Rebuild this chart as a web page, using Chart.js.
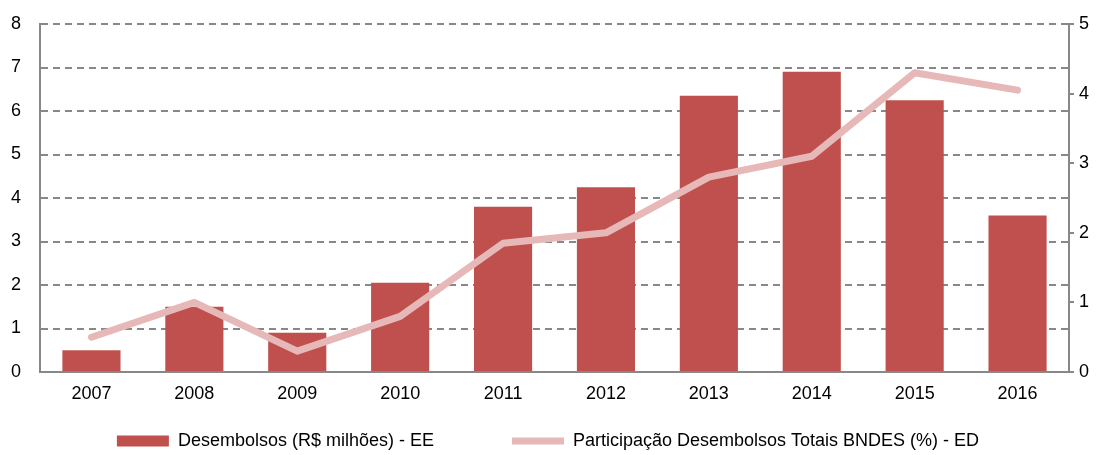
<!DOCTYPE html>
<html>
<head>
<meta charset="utf-8">
<script src="https://cdn.jsdelivr.net/npm/chart.js@4"></script>
<style>
  html, body { margin: 0; padding: 0; background: #fff; }
  #wrap { width: 1096px; height: 455px; position: relative; }
</style>
</head>
<body>
<div id="wrap"><canvas id="chart"></canvas></div>
<script>
const years = ['2007', '2008', '2009', '2010', '2011', '2012', '2013', '2014', '2015', '2016'];
const desembolsos = [0.5, 1.5, 0.9, 2.05, 3.8, 4.25, 6.35, 6.9, 6.25, 3.6];
const participacao = [0.5, 1.0, 0.3, 0.8, 1.85, 2.0, 2.8, 3.1, 4.3, 4.05];
const leftTicks = [0, 1, 2, 3, 4, 5, 6, 7, 8];
const rightTicks = [0, 1, 2, 3, 4, 5];

const FONT = { family: '"Liberation Sans", Arial, sans-serif', size: 18 };
const AXIS = '#888888';
const LEGEND_GAP = 78;   // horizontal space between legend entries
const LEGEND_TOP = 26;   // space above the legend row

// keep the value axes from adding their own label overflow padding
function fixY(width) {
	return s => { s.width = width; s.paddingTop = 0; s.paddingBottom = 0; };
}

// legend padding is used both sideways and on top; raise the top of the box
// (bottom stays put, so nothing gets clipped) to keep the row where it was
const legendShift = {
	id: 'legendShift',
	afterLayout(chart) {
		const lg = chart.legend;
		if (!lg) return;
		lg.top -= LEGEND_GAP - LEGEND_TOP;
		lg.height = lg.bottom - lg.top;
	}
};

new Chart(document.getElementById('chart'), {
	type: 'bar',
	data: {
		labels: years,
		datasets: [{
			label: 'Desembolsos (R$ milhões) - EE',
			data: desembolsos,
			backgroundColor: '#C0504D',
			barPercentage: 0.565,
			categoryPercentage: 1,
			yAxisID: 'y',
			pointStyle: 'rect',
			order: 1
		}, {
			type: 'line',
			label: 'Participação Desembolsos Totais BNDES (%) - ED',
			data: participacao,
			borderColor: '#E6B9B8',
			backgroundColor: '#E6B9B8',
			borderWidth: 7,
			borderCapStyle: 'round',
			borderJoinStyle: 'round',
			pointRadius: 0,
			pointStyle: 'line',
			yAxisID: 'y1',
			order: 0
		}]
	},
	options: {
		responsive: true,
		maintainAspectRatio: false,
		animation: false,
		layout: { padding: { top: 24, bottom: 0, left: 0, right: 0 } },
		plugins: {
			legend: {
				position: 'bottom',
				maxHeight: LEGEND_TOP + 23,
				labels: {
					color: '#000',
					font: FONT,
					usePointStyle: true,
					pointStyleWidth: 52,
					boxWidth: 52,
					boxHeight: 11,
					padding: LEGEND_GAP,
					sort: (a, b) => a.datasetIndex - b.datasetIndex
				}
			},
			tooltip: { enabled: false }
		},
		scales: {
			x: {
				grid: { display: true, drawOnChartArea: false, drawTicks: false },
				border: { display: true, color: AXIS, width: 2 },
				ticks: { color: '#000', font: FONT, padding: 11 },
				afterFit: s => { s.height = 34; }
			},
			y: {
				position: 'left',
				min: 0,
				max: 8,
				afterBuildTicks: s => { s.ticks = leftTicks.map(v => ({ value: v })); },
				grid: { color: AXIS, lineWidth: 2, drawTicks: false },
				border: { display: true, color: AXIS, width: 2, dash: [7, 5] },
				ticks: { color: '#000', font: FONT, padding: 19 },
				afterFit: fixY(40)
			},
			y1: {
				position: 'right',
				min: 0,
				max: 5,
				afterBuildTicks: s => { s.ticks = rightTicks.map(v => ({ value: v })); },
				grid: { drawOnChartArea: false, drawTicks: true, tickLength: 5, color: AXIS, lineWidth: 2 },
				border: { display: true, color: AXIS, width: 2 },
				ticks: { color: '#000', font: FONT, padding: 5 },
				afterFit: fixY(27)
			}
		}
	},
	plugins: [legendShift]
});
</script>
</body>
</html>
